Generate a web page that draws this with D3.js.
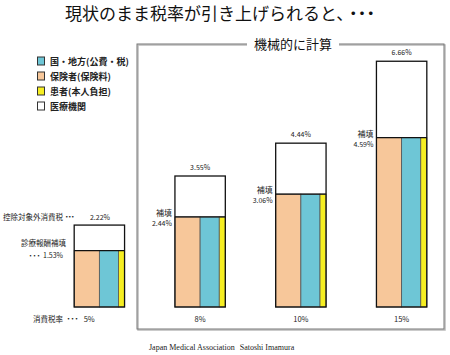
<!DOCTYPE html>
<html><head><meta charset="utf-8">
<script src="https://cdn.jsdelivr.net/npm/d3@7"></script>
<style>body{margin:0;background:#fff}svg{display:block}text{font-family:"Noto Sans CJK JP","Noto Sans",sans-serif}text.serif{font-family:"Liberation Serif","DejaVu Serif",serif}</style>
</head><body><svg id="c" width="450" height="355"></svg>
<script>
const categories = ["5%", "8%", "10%", "15%"];
const totalValues = [2.22, 3.55, 4.44, 6.66];      // 医療機関 (top of bar)
const compValues  = [1.53, 2.44, 3.06, 4.59];      // 補填 (filled part)
const shareNames  = ["保険者(保険料)", "国・地方(公費・税)", "患者(本人負担)"];
const shareValues = [0.50, 0.38, 0.12];
const shareColors = ["#F7C79A", "#6EC6D6", "#F6EE22"];
const legendNames = ["国・地方(公費・税)", "保険者(保険料)", "患者(本人負担)", "医療機関"];
const legendColors = ["#6EC6D6", "#F7C79A", "#F6EE22", "#FFFFFF"];

const svg = d3.select("#c");
const x = d3.scaleBand().domain(categories).range([49, 452]).paddingInner(0.5).paddingOuter(0.25);
const y = d3.scaleLinear().domain([0, 7]).range([307, 48.7]);
const bw = x.bandwidth();

function dots(sel, ls, dx) {
  return sel.append("tspan").attr("dx", dx || 0).style("letter-spacing", ls + "px").text("・・・");
}

// title
const t = svg.append("text").attr("x", 65).attr("y", 20)
  .attr("font-size", 17).attr("fill", "#111");
t.append("tspan").text("現状のまま税率が引き上げられると、");
dots(t, -8.3, 0);

// frame
svg.append("rect").attr("x", 138).attr("y", 45).attr("width", 307).attr("height", 285)
  .attr("fill", "none").attr("stroke", "#bbb").attr("stroke-width", 1.5);
svg.append("rect").attr("x", 137).attr("y", 44).attr("width", 307).attr("height", 285)
  .attr("fill", "none").attr("stroke", "#777").attr("stroke-width", 1);
svg.append("rect").attr("x", 247).attr("y", 36).attr("width", 92).attr("height", 16).attr("fill", "#fff");
svg.append("text").attr("x", 293).attr("y", 49).attr("text-anchor", "middle")
  .attr("font-size", 13).attr("fill", "#111").text("機械的に計算");

// legend
const lg = svg.append("g");
legendNames.forEach((n, i) => {
  const yy = 61 + i * 15;
  lg.append("rect").attr("x", 37.5).attr("y", yy - 4).attr("width", 7).attr("height", 8)
    .attr("fill", legendColors[i]).attr("stroke", "#333").attr("stroke-width", 1);
  lg.append("text").attr("x", 50).attr("y", yy + 3.5).attr("font-size", 9).attr("font-weight", "bold")
    .attr("fill", "#222").text(n);
});

// bars
categories.forEach((c, i) => {
  const x0 = x(c);
  const g = svg.append("g");
  g.append("rect").attr("x", x0).attr("y", y(totalValues[i])).attr("width", bw)
    .attr("height", y(0) - y(totalValues[i])).attr("fill", "#fff");
  let acc = 0;
  shareValues.forEach((s, k) => {
    g.append("rect").attr("x", x0 + acc * bw).attr("y", y(compValues[i])).attr("width", s * bw)
      .attr("height", y(0) - y(compValues[i])).attr("fill", shareColors[k])
      .attr("stroke", "#555").attr("stroke-width", 0.8);
    acc += s;
  });
  g.append("rect").attr("x", x0).attr("y", y(totalValues[i])).attr("width", bw)
    .attr("height", y(0) - y(totalValues[i])).attr("fill", "none").attr("stroke", "#111").attr("stroke-width", 1.3);
  g.append("line").attr("x1", x0).attr("x2", x0 + bw).attr("y1", y(compValues[i])).attr("y2", y(compValues[i]))
    .attr("stroke", "#111").attr("stroke-width", 1.3);
  if (i > 0) {
    g.append("text").attr("x", x0 + bw / 2).attr("y", y(totalValues[i]) - 6).attr("text-anchor", "middle")
      .attr("font-size", 7).attr("fill", "#222").text(totalValues[i].toFixed(2) + "%");
    g.append("text").attr("x", x0 - 3).attr("y", y(compValues[i]) - 1).attr("text-anchor", "end")
      .attr("font-size", 8).attr("fill", "#222").text("補填");
    g.append("text").attr("x", x0 - 3).attr("y", y(compValues[i]) + 9).attr("text-anchor", "end")
      .attr("font-size", 7).attr("fill", "#222").text(compValues[i].toFixed(2) + "%");
    g.append("text").attr("x", x0 + bw / 2).attr("y", 322).attr("text-anchor", "middle")
      .attr("font-size", 7.5).attr("fill", "#222").text(c);
  }
});

// left annotations for the 5% bar
const a1 = svg.append("text").attr("x", 3).attr("y", 220).attr("font-size", 7.5).attr("fill", "#222");
a1.append("tspan").text("控除対象外消費税");
dots(a1, -4.5, 0);
svg.append("text").attr("x", 110).attr("y", 220).attr("text-anchor", "end").attr("font-size", 7).attr("fill", "#222")
  .text(totalValues[0].toFixed(2) + "%");
svg.append("text").attr("x", 66).attr("y", 246).attr("text-anchor", "end").attr("font-size", 7.5).attr("fill", "#222")
  .text("診療報酬補填");
const a2 = svg.append("text").attr("x", 27).attr("y", 258).attr("font-size", 7).attr("fill", "#222");
dots(a2, -3);
a2.append("tspan").attr("dx", 4).text(compValues[0].toFixed(2) + "%");
const a3 = svg.append("text").attr("x", 33).attr("y", 322).attr("font-size", 7.5).attr("fill", "#222");
a3.append("tspan").text("消費税率 ");
dots(a3, -3.5);
a3.append("tspan").attr("dx", 7).text(categories[0]);

// footer
const f = svg.append("text").attr("class", "serif").attr("x", 149).attr("y", 350)
  .attr("font-size", 8).attr("fill", "#222");
f.append("tspan").text("Japan Medical Association");
f.append("tspan").attr("dx", 5).text("Satoshi Imamura");
</script></body></html>
